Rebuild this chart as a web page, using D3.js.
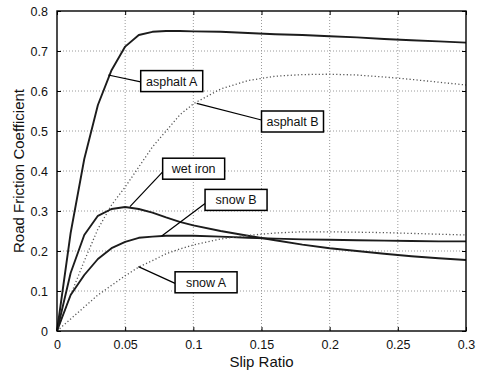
<!DOCTYPE html>
<html>
<head>
<meta charset="utf-8">
<script src="https://cdn.jsdelivr.net/npm/d3@7"></script>
<style>
html,body{margin:0;padding:0;background:#fff;}
svg{display:block;font-family:"Liberation Sans",Arial,sans-serif;}
</style>
</head>
<body>
<svg id="chart" width="477" height="375"></svg>
<script>
// ---- data ----
const slip = [0,0.01,0.02,0.03,0.04,0.05,0.06,0.07,0.08,0.09,0.10,0.12,0.14,0.16,0.18,0.20,0.22,0.24,0.26,0.28,0.30];
const asphaltA = [0,0.245,0.43,0.565,0.652,0.711,0.74,0.748,0.75,0.75,0.749,0.748,0.745,0.742,0.74,0.737,0.734,0.73,0.727,0.724,0.721];
const asphaltB = [0,0.09,0.175,0.255,0.315,0.36,0.41,0.46,0.5,0.54,0.568,0.605,0.626,0.637,0.641,0.642,0.64,0.635,0.629,0.622,0.615];
const wetIron  = [0,0.145,0.24,0.288,0.305,0.31,0.305,0.296,0.284,0.273,0.264,0.25,0.238,0.227,0.216,0.207,0.2,0.193,0.187,0.182,0.1775];
const snowB    = [0,0.09,0.14,0.18,0.207,0.223,0.233,0.236,0.238,0.238,0.238,0.236,0.233,0.231,0.229,0.228,0.227,0.226,0.225,0.224,0.224];
const snowA    = [0,0.03,0.06,0.09,0.114,0.138,0.16,0.176,0.193,0.205,0.215,0.23,0.239,0.245,0.248,0.248,0.247,0.246,0.244,0.242,0.24];
const xTicks = [0,0.05,0.1,0.15,0.2,0.25,0.3];
const xTickLabels = ["0","0.05","0.1","0.15","0.2","0.25","0.3"];
const yTicks = [0,0.1,0.2,0.3,0.4,0.5,0.6,0.7,0.8];
const yTickLabels = ["0","0.1","0.2","0.3","0.4","0.5","0.6","0.7","0.8"];
const xTitle = "Slip Ratio";
const yTitle = "Road Friction Coefficient";
const seriesNames = ["asphalt A","asphalt B","wet iron","snow B","snow A"];
const seriesValues = [asphaltA, asphaltB, wetIron, snowB, snowA];
const seriesDotted = [false, true, false, false, true];
// annotation layout (data coords): anchor on curve, box left x, box top y, leader end y
const annAnchorX = [0.0376,0.1025,0.0535,0.0768,0.0597];
const annAnchorY = [0.64,0.569,0.311,0.2375,0.161];
const annBoxX    = [0.0614,0.150,0.0775,0.1086,0.0866];
const annBoxTop  = [0.651,0.55,0.432,0.354,0.148];
const annLeadY   = [0.623,0.5275,0.398,0.319,0.119];

// ---- layout ----
const L = 57, R = 466, T = 11, B = 331;
const svg = d3.select("#chart");
const x = d3.scaleLinear().domain([0,0.3]).range([L,R]);
const y = d3.scaleLinear().domain([0,0.8]).range([B,T]);

// grid
const grid = svg.append("g");
grid.selectAll(".vg").data(xTicks.slice(1,-1)).join("line")
  .attr("x1",d=>x(d)).attr("x2",d=>x(d)).attr("y1",T).attr("y2",B)
  .attr("stroke","#9a9a9a").attr("stroke-width",1).attr("stroke-dasharray","1,2");
grid.selectAll(".hg").data(yTicks.slice(1,-1)).join("line")
  .attr("y1",d=>y(d)).attr("y2",d=>y(d)).attr("x1",L).attr("x2",R)
  .attr("stroke","#9a9a9a").attr("stroke-width",1).attr("stroke-dasharray","1,2");

// axes (ticks inward, labels)
const fmtX = (d,i)=>xTickLabels[i];
const fmtY = (d,i)=>yTickLabels[i];
const axB = svg.append("g").attr("transform",`translate(0,${B})`)
  .call(d3.axisBottom(x).tickValues(xTicks).tickFormat(fmtX).tickSizeInner(-4).tickSizeOuter(0).tickPadding(9));
const axL = svg.append("g").attr("transform",`translate(${L},0)`)
  .call(d3.axisLeft(y).tickValues(yTicks).tickFormat(fmtY).tickSizeInner(-4).tickSizeOuter(0).tickPadding(9));
const axT = svg.append("g").attr("transform",`translate(0,${T})`)
  .call(d3.axisTop(x).tickValues(xTicks).tickFormat("").tickSizeInner(-4).tickSizeOuter(0));
const axR = svg.append("g").attr("transform",`translate(${R},0)`)
  .call(d3.axisRight(y).tickValues(yTicks).tickFormat("").tickSizeInner(-4).tickSizeOuter(0));
[axB,axL,axT,axR].forEach(a=>{
  a.select(".domain").remove();
  a.selectAll(".tick line").attr("stroke","#000").attr("stroke-width",1);
  a.selectAll(".tick text").attr("fill","#111").style("font-size","12.5px")
   .style("font-family",'"Liberation Sans",Arial,sans-serif');
});
axB.selectAll(".tick text").attr("dy","0.71em");
axL.selectAll(".tick text").attr("dy","0.35em");

// curves
const line = d3.line().x((d,i)=>x(slip[i])).y(d=>y(d)).curve(d3.curveLinear);
svg.append("g").selectAll("path").data(seriesValues).join("path")
  .attr("d",d=>line(d))
  .attr("fill","none")
  .attr("stroke",(d,i)=>seriesDotted[i]?"#555":"#1c1c1c")
  .attr("stroke-width",(d,i)=>seriesDotted[i]?1.3:1.9)
  .attr("stroke-dasharray",(d,i)=>seriesDotted[i]?"1.2,2.3":null)
  .attr("stroke-linejoin","round");

// frame
svg.append("rect").attr("x",L).attr("y",T).attr("width",R-L).attr("height",B-T)
  .attr("fill","none").attr("stroke","#000").attr("stroke-width",1.4);

// annotations
const boxW = 62, boxH = 21;
const ann = svg.append("g");
seriesNames.forEach((name,i)=>{
  ann.append("line")
    .attr("x1",x(annAnchorX[i])).attr("y1",y(annAnchorY[i]))
    .attr("x2",x(annBoxX[i])).attr("y2",y(annLeadY[i]))
    .attr("stroke","#000").attr("stroke-width",1.2);
  ann.append("rect")
    .attr("x",x(annBoxX[i])).attr("y",y(annBoxTop[i]))
    .attr("width",boxW).attr("height",boxH)
    .attr("fill","#fff").attr("stroke","#000").attr("stroke-width",1.5);
  ann.append("text")
    .attr("x",x(annBoxX[i])+boxW/2).attr("y",y(annBoxTop[i])+15)
    .attr("text-anchor","middle").attr("fill","#111")
    .style("font-size","12.5px").text(name);
});

// titles
svg.append("text").attr("x",(L+R)/2).attr("y",367).attr("text-anchor","middle")
  .attr("fill","#111").style("font-size","15px").text(xTitle);
svg.append("text").attr("transform",`translate(24,${(T+B)/2}) rotate(-90)`)
  .attr("text-anchor","middle").attr("fill","#111").style("font-size","15px").text(yTitle);
</script>
</body>
</html>
